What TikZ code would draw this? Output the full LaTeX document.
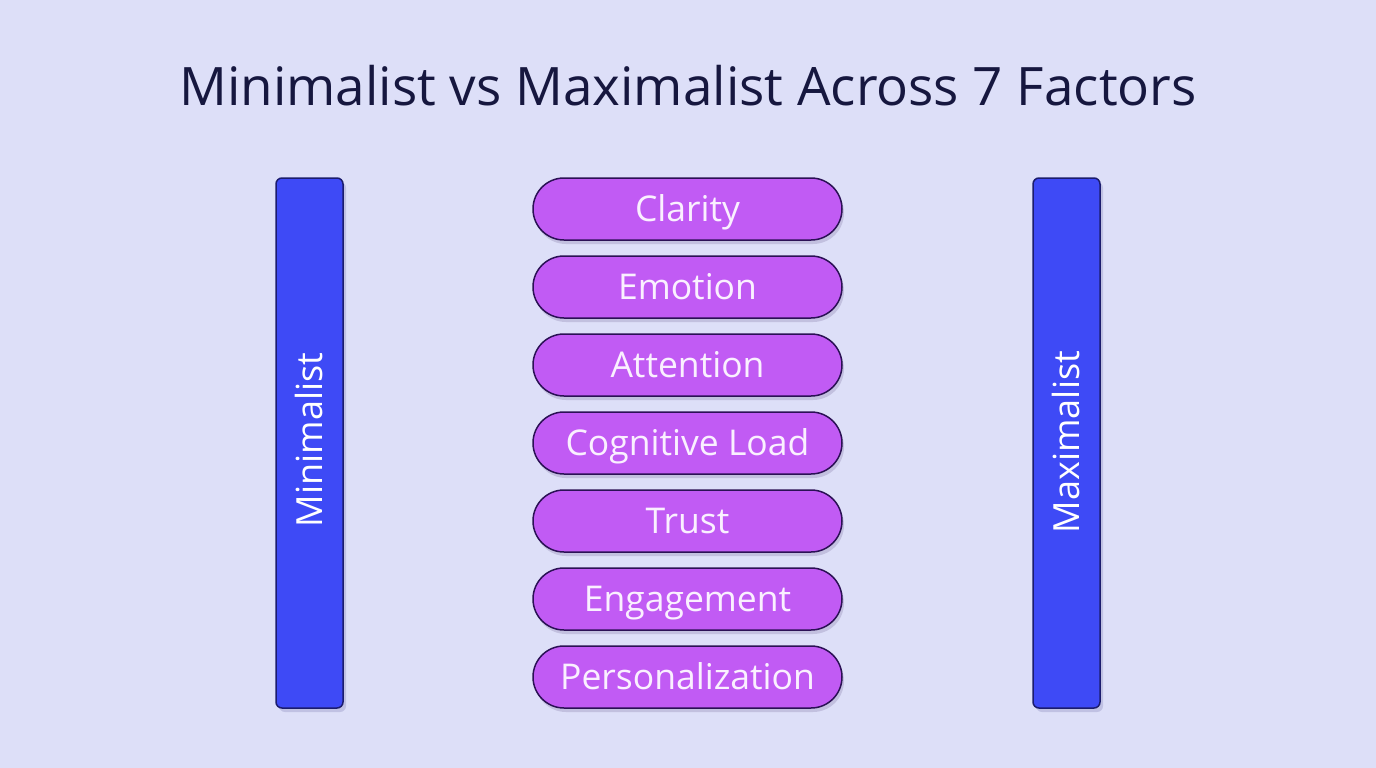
\documentclass[tikz,border=0pt]{standalone}
\usepackage{fontspec}
\setmainfont{Open Sans}
\usetikzlibrary{shadows}
\definecolor{bg}{HTML}{DDDFF8}
\definecolor{barblue}{HTML}{3E4AF6}
\definecolor{barline}{HTML}{1B1C6E}
\definecolor{pillfill}{HTML}{C15BF4}
\definecolor{pillline}{HTML}{2B1155}
\definecolor{titlec}{HTML}{16173F}
\definecolor{pilltext}{HTML}{FAF0FF}
\begin{document}
\begin{tikzpicture}[x=1pt,y=-1pt,
  bar/.style={draw=barline,line width=1.5pt,fill=barblue,rounded corners=6pt,minimum width=67pt,minimum height=530pt,inner sep=0pt,
    drop shadow={shadow xshift=3pt,shadow yshift=-4pt,opacity=0.15,fill=barline}},
  pill/.style={draw=pillline,line width=1.5pt,fill=pillfill,rounded corners=31pt,minimum width=309pt,minimum height=62pt,inner sep=0pt,
    text=pilltext,font=\fontsize{35.5}{40}\selectfont,text height=25.4pt,text depth=0pt,
    drop shadow={shadow xshift=2pt,shadow yshift=-4pt,opacity=0.15,fill=pillline}},
  barlabel/.style={rotate=90,text=white,font=\fontsize{36}{40}\selectfont,text height=25.7pt,text depth=0pt}]
\fill[bg] (0,0) rectangle (1376,768);
\useasboundingbox (0,0) rectangle (1376,768);
\node[text=titlec,font=\fontsize{53}{60}\selectfont] (title) at (688,86) {Minimalist vs Maximalist Across 7 Factors};
\node[bar] (minb) at (309.5,443) {};
\node[barlabel] (minl) at (309.5,440) {Minimalist};
\node[bar] (maxb) at (1066.5,443) {};
\node[barlabel] (maxl) at (1066.5,442) {Maximalist};
\foreach \t [count=\i] in {Clarity,Emotion,Attention,Cognitive Load,Trust,Engagement,Personalization}{
  \node[pill] (p\i) at (687.5,{209+78*(\i-1)}) {\t};
}
\end{tikzpicture}
\end{document}
